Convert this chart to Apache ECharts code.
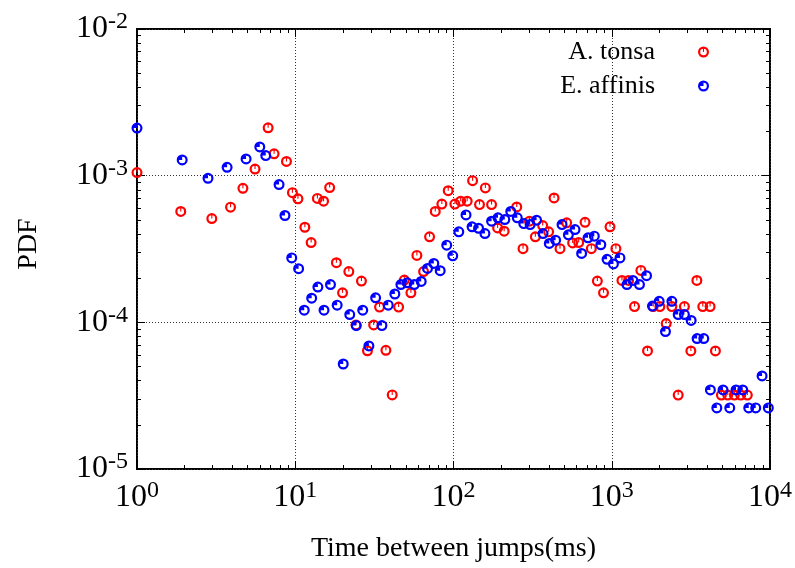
<!DOCTYPE html>
<html><head><meta charset="utf-8">
<script src="https://cdn.jsdelivr.net/npm/echarts@6/dist/echarts.min.js"></script>
<style>html,body{margin:0;padding:0;background:#fff}#c{width:795px;height:568px}</style>
</head><body><div id="c"></div>
<script>
const seriesNames = ['A. tonsa', 'E. affinis'];
const tonsaX = [1.0,1.89,2.97,3.90,4.67,5.57,6.74,7.35,8.80,9.60,10.4,11.5,12.6,13.8,15.1,16.5,18.2,19.9,21.8,24.2,26.2,28.6,31.3,34.1,37.4,41.0,45.0,48.9,53.8,58.7,64.7,70.6,76.7,84.4,92.6,102,111,122,132,146,159,174,190,209,251,275,302,329,366,399,432,471,519,566,618,678,743,811,887,975,1062,1160,1277,1393,1528,1683,1828,2014,2208,2398,2629,2879,3162,3450,3760,4182,4520,4930,5410,5955,6534,7190];
const tonsaY = [1.05e-3,5.7e-4,5.1e-4,6.1e-4,8.2e-4,1.11e-3,2.12e-3,1.41e-3,1.25e-3,7.66e-4,6.95e-4,4.45e-4,3.5e-4,7.0e-4,6.7e-4,8.3e-4,2.55e-4,1.59e-4,2.22e-4,9.6e-5,1.91e-4,6.4e-5,9.6e-5,1.27e-4,6.45e-5,3.2e-5,1.27e-4,1.94e-4,1.59e-4,2.86e-4,2.22e-4,3.83e-4,5.7e-4,6.4e-4,7.9e-4,6.4e-4,6.7e-4,6.7e-4,9.25e-4,6.35e-4,8.25e-4,6.35e-4,4.4e-4,4.18e-4,6.12e-4,3.18e-4,4.89e-4,3.83e-4,4.57e-4,4.14e-4,7.05e-4,3.18e-4,4.77e-4,3.48e-4,3.5e-4,4.81e-4,3.18e-4,1.91e-4,1.59e-4,4.48e-4,3.18e-4,1.93e-4,1.93e-4,1.28e-4,2.26e-4,6.38e-5,1.28e-4,1.28e-4,9.8e-5,1.28e-4,3.19e-5,1.28e-4,6.38e-5,1.93e-4,1.28e-4,1.28e-4,6.38e-5,3.19e-5,3.19e-5,3.19e-5,3.19e-5,3.19e-5];
const affinisX = [1.0,1.93,2.81,3.71,4.89,5.97,6.51,7.9,8.61,9.5,10.5,11.4,12.7,13.9,15.2,16.7,18.4,20.1,22.1,24.3,26.7,29.2,32.2,35.3,38.7,42.6,46.5,51.0,56.5,62.5,68.5,75.1,82.4,90.6,98.9,108,120,131,144,158,174,191,211,230,253,278,305,335,368,403,442,485,532,586,645,708,776,853,934,1025,1127,1247,1361,1497,1659,1808,1994,2185,2398,2629,2879,3175,3462,3816,4201,4613,5050,5568,6100,6725,7340,8125,8910,9760];
const affinisY = [2.11e-3,1.28e-3,9.6e-4,1.14e-3,1.30e-3,1.57e-3,1.37e-3,8.7e-4,5.35e-4,2.75e-4,2.32e-4,1.21e-4,1.46e-4,1.74e-4,1.21e-4,1.81e-4,1.31e-4,5.2e-5,1.13e-4,9.5e-5,1.21e-4,6.9e-5,1.47e-4,9.5e-5,1.31e-4,1.56e-4,1.81e-4,1.86e-4,1.81e-4,1.90e-4,2.33e-4,2.52e-4,2.25e-4,3.36e-4,2.84e-4,4.14e-4,5.4e-4,4.48e-4,4.38e-4,4.03e-4,4.89e-4,5.16e-4,5.02e-4,5.7e-4,5.16e-4,4.71e-4,4.64e-4,4.97e-4,4.03e-4,3.45e-4,3.63e-4,4.64e-4,3.95e-4,4.29e-4,2.95e-4,3.77e-4,3.87e-4,3.38e-4,2.69e-4,2.5e-4,2.75e-4,1.81e-4,1.93e-4,1.81e-4,2.08e-4,1.29e-4,1.39e-4,8.65e-5,1.39e-4,1.13e-4,1.13e-4,1.03e-4,7.75e-5,7.75e-5,3.46e-5,2.61e-5,3.46e-5,2.61e-5,3.46e-5,3.46e-5,2.61e-5,2.61e-5,4.31e-5,2.61e-5];
const xTickValues = [1, 10, 100, 1000, 10000];
const yTickValues = [1e-5, 1e-4, 1e-3, 1e-2];
const xTitle = 'Time between jumps(ms)';
const yTitle = 'PDF';

const FONT = "'Liberation Serif','Times New Roman',serif";
const RED = '#ff0000', BLUE = '#0000ff';
const ringPath = 'M0,10 A10,10 0 1,1 20,10 A10,10 0 1,1 0,10 Z M4,10 A6,6 0 1,0 16,10 A6,6 0 1,0 4,10 Z';
const redSym = 'path://' + ringPath + ' M9,3.5 L11,3.5 L11,10 L9,10 Z';
const blueSym = 'path://' + ringPath + ' M10,10 L3.5,10 A6.5,6.5 0 0,1 10,3.5 Z';

// decoration tick positions (log-space) for minor & mirrored ticks
function minorLog(lo, hi) { const r = []; for (let e = lo; e < hi; e++) for (let m = 2; m <= 9; m++) r.push(e + Math.log10(m)); return r; }
function majorLog(lo, hi) { const r = []; for (let e = lo; e <= hi; e++) r.push(e); return r; }

const zip = (xs, ys) => xs.map((x, i) => [x, ys[i]]);
const labelFmt = v => { const e = Math.round(Math.log10(v)); return '{b|10}{s|' + e + '}'; };
const rich = {
  b: { fontFamily: FONT, fontSize: 32, color: '#000' },
  s: { fontFamily: FONT, fontSize: 24, color: '#000', verticalAlign: 'top', padding: [0, 0, 14, 0] }
};

function decoAxis(pos, lo, hi, vals, len) {
  return {
    type: 'value', position: pos, min: lo, max: hi, gridIndex: 0,
    axisLine: { show: false, onZero: false },
    axisLabel: { show: false },
    splitLine: { show: false },
    axisTick: { show: true, inside: true, length: len, customValues: vals, lineStyle: { color: '#000', width: 1 } }
  };
}

const chart = echarts.init(document.getElementById('c'), null, { renderer: 'canvas' });
chart.setOption({
  animation: false,
  backgroundColor: '#fff',
  grid: { left: 137, right: 24, top: 29, bottom: 98, show: true, borderColor: '#000', borderWidth: 2, backgroundColor: 'transparent' },
  legend: {
    orient: 'vertical', right: 86, top: 39, align: 'right', padding: 0, itemGap: 8,
    itemWidth: 11, itemHeight: 11,
    textStyle: { fontFamily: FONT, fontSize: 26, color: '#000', padding: [0, 38, 0, 0] },
    data: [{ name: seriesNames[0], icon: redSym, itemStyle: { color: RED } }, { name: seriesNames[1], icon: blueSym, itemStyle: { color: BLUE } }]
  },
  xAxis: [
    {
      type: 'log', logBase: 10, min: 1, max: 10000, position: 'bottom',
      name: xTitle, nameLocation: 'middle', nameGap: 66,
      nameTextStyle: { fontFamily: FONT, fontSize: 28, color: '#000' },
      axisLine: { show: false, onZero: false },
      axisTick: { show: true, inside: true, length: 8, customValues: xTickValues, lineStyle: { color: '#000', width: 1 } },
      axisLabel: { customValues: xTickValues, formatter: labelFmt, rich: rich, margin: 10 },
      splitLine: { show: true, lineStyle: { color: '#333', width: 1, type: [1, 2] } }
    },
    decoAxis('bottom', 0, 4, minorLog(0, 4), 4),
    decoAxis('top', 0, 4, majorLog(0, 4), 8),
    decoAxis('top', 0, 4, minorLog(0, 4), 4)
  ],
  yAxis: [
    {
      type: 'log', logBase: 10, min: 1e-5, max: 1e-2, position: 'left',
      name: yTitle, nameLocation: 'middle', nameGap: 94, nameRotate: 90,
      nameTextStyle: { fontFamily: FONT, fontSize: 28, color: '#000', padding: [0, 0, 0, 10] },
      axisLine: { show: false, onZero: false },
      axisTick: { show: true, inside: true, length: 8, customValues: yTickValues, lineStyle: { color: '#000', width: 1 } },
      axisLabel: { customValues: yTickValues, formatter: labelFmt, rich: rich, margin: 9 },
      splitLine: { show: true, lineStyle: { color: '#333', width: 1, type: [1, 2] } }
    },
    decoAxis('left', -5, -2, minorLog(-5, -2), 4),
    decoAxis('right', -5, -2, majorLog(-5, -2), 8),
    decoAxis('right', -5, -2, minorLog(-5, -2), 4)
  ],
  series: [
    { name: seriesNames[0], type: 'scatter', xAxisIndex: 0, yAxisIndex: 0, symbol: redSym, symbolSize: 11, itemStyle: { color: RED, opacity: 1 }, data: zip(tonsaX, tonsaY), z: 3 },
    { name: seriesNames[1], type: 'scatter', xAxisIndex: 0, yAxisIndex: 0, symbol: blueSym, symbolSize: 11, itemStyle: { color: BLUE, opacity: 1 }, data: zip(affinisX, affinisY), z: 4 }
  ]
});
</script></body></html>
